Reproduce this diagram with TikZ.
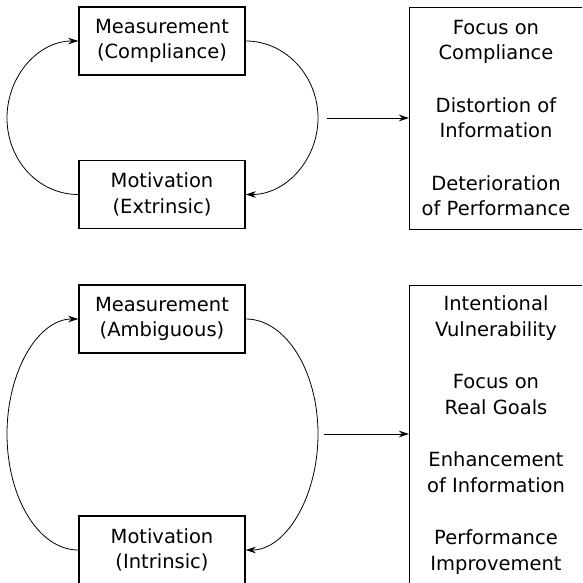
\documentclass[tikz,border=0pt]{standalone}
\usepackage{fontspec}
\setmainfont{DejaVu Sans}
\usetikzlibrary{arrows.meta,calc}
\begin{document}
\begin{tikzpicture}[x=1pt,y=-1pt,
  every node/.style={font=\fontsize{19.5}{25.5}\selectfont, text=black},
  stagebox/.style={draw, line width=1.4pt, minimum width=166, minimum height=68,
    inner sep=0pt, align=center},
  outbox/.style={draw, line width=1.4pt, minimum width=200, inner sep=0pt, anchor=north west},
  outtext/.style={align=center, inner sep=0pt},
  loop/.style={line width=0.8pt, -{Stealth[length=10pt,width=6.5pt,inset=3pt]}},
  flow/.style={line width=0.8pt, -{Stealth[length=10pt,width=6.5pt,inset=3pt]}}]
\useasboundingbox (0,0) rectangle (582,583);
\clip (0,0) rectangle (582,583);

% ---- upper cycle: compliance ----
\node[stagebox] (meas1) at (162,41) {Measurement\\(Compliance)};
\node[stagebox] (mot1) at (162,194.5) {Motivation\\(Extrinsic)};
\coordinate (l1) at (7,118);
\coordinate (r1) at (318,118);
\draw[loop] (mot1.west) .. controls ++(-40,0) and (7,160) .. (l1)
  .. controls (7,76) and ($(meas1.west)+(-40,0)$) .. (meas1.west);
\draw[loop] (meas1.east) .. controls ++(40,0) and (318,76) .. (r1)
  .. controls (318,160) and ($(mot1.east)+(40,0)$) .. (mot1.east);

\node[outbox, minimum height=222] (out1) at (409,7) {};
\node[outtext] (res1) at (496,118)
  {Focus on\\Compliance\\[27pt]Distortion of\\Information\\[27pt]Deterioration\\of Performance};
\coordinate (s1) at (327,118);
\draw[flow] (s1) -- (s1 -| out1.west);

% ---- lower cycle: ambiguity ----
\node[stagebox] (meas2) at (162,319) {Measurement\\(Ambiguous)};
\node[stagebox] (mot2) at (162,550) {Motivation\\(Intrinsic)};
\coordinate (l2) at (7,434);
\coordinate (r2) at (318,434);
\draw[loop] (mot2.west) .. controls ++(-40,0) and (7,497) .. (l2)
  .. controls (7,371) and ($(meas2.west)+(-40,0)$) .. (meas2.west);
\draw[loop] (meas2.east) .. controls ++(40,0) and (318,371) .. (r2)
  .. controls (318,497) and ($(mot2.east)+(40,0)$) .. (mot2.east);

\node[outbox, minimum height=298] (out2) at (409,285) {};
\node[outtext] (res2) at (496,435)
  {Intentional\\Vulnerability\\[27pt]Focus on\\Real Goals\\[27pt]Enhancement\\of Information\\[27pt]Performance\\Improvement};
\coordinate (s2) at (324,434);
\draw[flow] (s2) -- (s2 -| out2.west);
\end{tikzpicture}
\end{document}
